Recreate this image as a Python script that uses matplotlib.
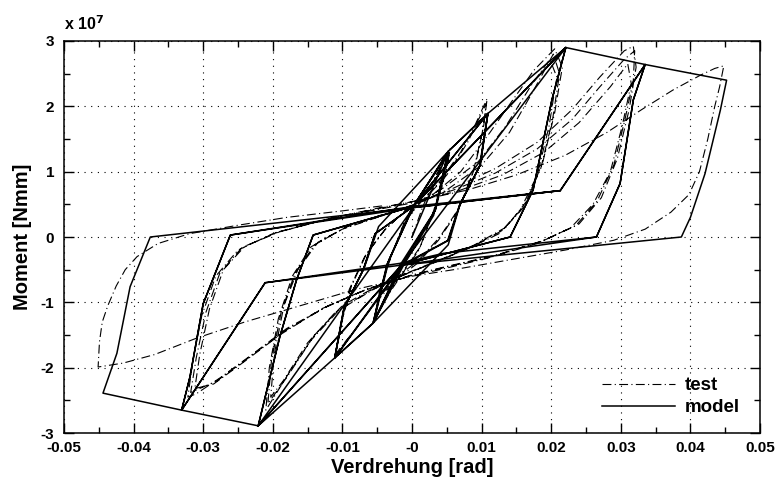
import matplotlib
matplotlib.use('Agg')
import matplotlib.pyplot as plt
import numpy as np
from matplotlib.ticker import MultipleLocator

plt.rcParams['font.family'] = ['Liberation Sans', 'DejaVu Sans']
plt.rcParams['axes.unicode_minus'] = False

# Verdrehung [rad], Moment [1e7 Nmm] -- model (solid), nan = pen up
model_rot = [
    0.0, 0.0052,
    0.0033, -0.0015, -0.0056, -0.0035, 0.0002, 0.0052,
    0.0031, -0.0013, -0.0055, -0.0033, 0.0000, 0.0053,
    0.0034, -0.0016, -0.0056, -0.0036, 0.0003, 0.0052,
    0.0109, 0.0098, 0.0069, 0.0052, -0.0015, -0.0056, -0.0111,
    -0.0098, -0.0070, -0.0053, 0.0002, 0.0109,
    0.0097, 0.0068, 0.0051, -0.0014, -0.0111,
    -0.0097, -0.0069, -0.0048, 0.0052, 0.0109,
    0.0098, 0.0069, 0.0052, -0.0056, -0.0111,
    -0.0098, -0.0070, -0.0053,
    0.0002, 0.0109, 0.0221, 0.0201, 0.0174, 0.0141,
    -0.0015, -0.0111, -0.0221, -0.0190, -0.0166, -0.0142,
    0.0002, 0.0221, 0.0201, 0.0174, 0.0141,
    -0.0015, -0.0221, -0.0190, -0.0166, -0.0142,
    0.0002, 0.0221, 0.0335, 0.0318, 0.0299, 0.0265,
    -0.0015, -0.0221, -0.0331, -0.0319, -0.0300, -0.0261,
    0.0002, 0.0213, 0.0335, 0.0318, 0.0299, 0.0265,
    0.0045, -0.0015, -0.0211, -0.0331, -0.0319, -0.0300, -0.0261,
    0.0002, 0.0213, 0.0335, 0.0452, 0.0443, 0.0421, 0.0400, 0.0387,
    -0.0015, -0.0211, -0.0331, -0.0444, -0.0424, -0.0405, -0.0376,
    0.0002, 0.0213,
    np.nan, 0.0002, -0.0221,
    np.nan, -0.0015, 0.0221,
]
model_mom = [
    0.0, 1.31,
    0.40, -0.43, -1.32, -0.40, 0.47, 1.31,
    0.33, -0.45, -1.30, -0.35, 0.45, 1.29,
    0.42, -0.41, -1.32, -0.42, 0.48, 1.31,
    1.89, 1.10, 0.50, -0.05, -0.43, -1.32, -1.85,
    -1.10, -0.50, 0.05, 0.47, 1.89,
    1.08, 0.48, -0.06, -0.44, -1.85,
    -1.08, -0.48, 0.16, 1.31, 1.89,
    1.10, 0.50, -0.12, -1.32, -1.85,
    -1.10, -0.50, 0.05,
    0.47, 1.89, 2.90, 2.10, 0.72, 0.00,
    -0.43, -1.85, -2.89, -1.53, -0.66, 0.03,
    0.47, 2.90, 2.10, 0.72, 0.00,
    -0.43, -2.89, -1.53, -0.66, 0.03,
    0.47, 2.90, 2.64, 2.10, 0.82, 0.00,
    -0.43, -2.89, -2.65, -2.14, -1.02, 0.03,
    0.47, 0.71, 2.64, 2.10, 0.82, 0.00,
    -0.25, -0.40, -0.70, -2.65, -2.14, -1.02, 0.03,
    0.45, 0.71, 2.64, 2.40, 1.94, 0.97, 0.30, 0.00,
    -0.43, -0.70, -2.65, -2.39, -1.78, -0.76, 0.00,
    0.45, 0.71,
    np.nan, 0.45, -2.89,
    np.nan, -0.43, 2.90,
]

# test (dash-dot)
test_rot = [
    0.0, 0.0015, 0.0035, 0.0055, 0.0048, 0.0033, 0.0012, -0.0008, -0.0030, -0.0055,
    -0.0047, -0.0032, -0.0012, 0.0008, 0.0030, 0.0054,
    0.0046, 0.0031, 0.0010, -0.0010, -0.0032, -0.0054,
    -0.0046, -0.0030, -0.0010, 0.0010,
    0.0040, 0.0070, 0.0090, 0.0108, 0.0103, 0.0090, 0.0068, 0.0040, 0.0010, -0.0020,
    -0.0050, -0.0080, -0.0110,
    -0.0103, -0.0090, -0.0068, -0.0040, -0.0010, 0.0020, 0.0050, 0.0080, 0.0107,
    0.0101, 0.0088, 0.0066, 0.0038, 0.0008, -0.0022, -0.0052, -0.0082, -0.0109,
    -0.0101, -0.0087, -0.0065, -0.0038, -0.0008,
    0.0030, 0.0070, 0.0112, 0.0145, 0.0175, 0.0205, 0.0216, 0.0205, 0.0188, 0.0165,
    0.0135, 0.0090, 0.0040, 0.0000, -0.0050, -0.0100, -0.0140, -0.0175, -0.0210,
    -0.0205, -0.0192, -0.0172, -0.0145, -0.0100, -0.0050, 0.0000, 0.0050, 0.0100,
    0.0140, 0.0175, 0.0203,
    0.0212, 0.0202, 0.0185, 0.0160, 0.0130, 0.0085, 0.0035, -0.0005, -0.0055, -0.0105,
    -0.0145, -0.0180, -0.0207,
    -0.0202, -0.0188, -0.0168, -0.0140, -0.0095, -0.0045, 0.0005,
    0.0045, 0.0095, 0.0135, 0.0170, 0.0198, 0.0208, 0.0197, 0.0180, 0.0155, 0.0125,
    0.0080, 0.0030, -0.0010, -0.0060, -0.0110, -0.0150, -0.0185, -0.0203,
    -0.0198, -0.0184, -0.0164, -0.0135, -0.0090, -0.0040, 0.0010,
    0.0060, 0.0120, 0.0180, 0.0230, 0.0270, 0.0305, 0.0318, 0.0322, 0.0312, 0.0295,
    0.0272, 0.0240, 0.0190, 0.0120, 0.0050, 0.0000, -0.0060, -0.0120, -0.0180, -0.0230,
    -0.0275, -0.0310, -0.0322,
    -0.0315, -0.0302, -0.0282, -0.0250, -0.0200, -0.0130, -0.0060, 0.0000, 0.0060, 0.0120,
    0.0180, 0.0230, 0.0270, 0.0305, 0.0320,
    0.0318, 0.0306, 0.0290, 0.0266, 0.0235, 0.0185, 0.0115, 0.0045, -0.0005, -0.0065,
    -0.0125, -0.0185, -0.0235, -0.0280, -0.0318,
    -0.0310, -0.0296, -0.0276, -0.0245, -0.0195, -0.0125, -0.0055, 0.0005,
    0.0065, 0.0130, 0.0190, 0.0240, 0.0285, 0.0310, 0.0315, 0.0302, 0.0285, 0.0260,
    0.0228, 0.0180, 0.0110, 0.0040, -0.0010, -0.0070, -0.0130, -0.0190, -0.0240, -0.0285,
    -0.0312, -0.0305, -0.0291, -0.0271, -0.0240, -0.0190, -0.0120, -0.0050, 0.0010,
    0.0080, 0.0150, 0.0220, 0.0280, 0.0330, 0.0375, 0.0415, 0.0435, 0.0448, 0.0442,
    0.0435, 0.0425, 0.0413, 0.0398, 0.0372, 0.0335, 0.0290, 0.0220, 0.0140, 0.0060,
    0.0000, -0.0080, -0.0160, -0.0240, -0.0310, -0.0370, -0.0415, -0.0451,
    -0.0449, -0.0445, -0.0437, -0.0425, -0.0412, -0.0395, -0.0365, -0.0320, -0.0250,
    -0.0180, -0.0100, -0.0040,
]
test_mom = [
    0.0, 0.45, 0.95, 1.35, 0.95, 0.45, -0.15, -0.45, -0.80, -1.30,
    -0.85, -0.35, 0.20, 0.50, 0.85, 1.30,
    0.90, 0.40, -0.20, -0.50, -0.85, -1.27,
    -0.80, -0.30, 0.25, 0.50,
    0.85, 1.30, 1.70, 2.12, 1.70, 1.05, 0.45, 0.00, -0.35, -0.60,
    -0.95, -1.40, -1.80,
    -1.35, -0.80, -0.30, 0.10, 0.40, 0.60, 0.95, 1.45, 2.05,
    1.60, 1.00, 0.40, -0.05, -0.40, -0.65, -1.00, -1.42, -1.78,
    -1.30, -0.75, -0.25, 0.12, 0.42,
    0.65, 1.00, 1.60, 2.10, 2.55, 2.88, 2.60, 1.90, 1.15, 0.55,
    0.15, -0.12, -0.35, -0.52, -0.75, -1.05, -1.50, -2.05, -2.65,
    -2.00, -1.25, -0.60, -0.15, 0.12, 0.30, 0.48, 0.72, 1.10,
    1.60, 2.25, 2.80,
    2.50, 1.80, 1.05, 0.45, 0.10, -0.15, -0.38, -0.55, -0.80, -1.12,
    -1.58, -2.15, -2.55,
    -1.90, -1.15, -0.55, -0.12, 0.15, 0.32, 0.50,
    0.75, 1.15, 1.70, 2.30, 2.72, 2.45, 1.70, 0.95, 0.40, 0.05,
    -0.18, -0.40, -0.57, -0.82, -1.15, -1.62, -2.20, -2.45,
    -1.80, -1.05, -0.50, -0.08, 0.18, 0.35, 0.52,
    0.75, 1.05, 1.45, 1.95, 2.45, 2.85, 2.92, 2.60, 1.95, 1.20,
    0.60, 0.20, -0.05, -0.28, -0.45, -0.58, -0.78, -1.05, -1.40, -1.80,
    -2.15, -2.40, -2.45,
    -1.90, -1.20, -0.60, -0.20, 0.05, 0.25, 0.40, 0.52, 0.72, 0.98,
    1.35, 1.80, 2.30, 2.72, 2.85,
    2.40, 1.80, 1.10, 0.55, 0.17, -0.07, -0.30, -0.47, -0.60, -0.80,
    -1.08, -1.45, -1.85, -2.20, -2.38,
    -1.85, -1.15, -0.55, -0.17, 0.07, 0.27, 0.42, 0.55,
    0.70, 0.95, 1.30, 1.75, 2.30, 2.65, 2.35, 1.70, 1.00, 0.50,
    0.14, -0.10, -0.32, -0.50, -0.62, -0.82, -1.10, -1.50, -1.90, -2.25,
    -2.32, -1.80, -1.10, -0.50, -0.14, 0.08, 0.28, 0.44, 0.56,
    0.72, 0.95, 1.25, 1.60, 1.95, 2.25, 2.48, 2.58, 2.62, 2.30,
    2.00, 1.50, 1.00, 0.65, 0.38, 0.12, -0.05, -0.20, -0.35, -0.50,
    -0.60, -0.80, -1.05, -1.30, -1.55, -1.80, -1.93, -1.99,
    -1.60, -1.30, -1.05, -0.75, -0.50, -0.30, -0.10, 0.05, 0.18,
    0.30, 0.40, 0.48,
]

fig = plt.figure(figsize=(7.81, 4.86), dpi=100)
ax = fig.add_axes([64 / 781, 1 - 433 / 486, 696 / 781, 392 / 486])

dashdot = (0, (8, 3, 1, 3))
ax.plot(test_rot, test_mom, color='black', lw=0.8, linestyle=dashdot, label='test')
ax.plot(model_rot, model_mom, color='black', lw=1.1, label='model')

ax.set_xlim(-0.05, 0.05)
ax.set_ylim(-3, 3)
ax.xaxis.set_major_locator(MultipleLocator(0.01))
ax.xaxis.set_minor_locator(MultipleLocator(0.005))
ax.yaxis.set_major_locator(MultipleLocator(1))
ax.yaxis.set_minor_locator(MultipleLocator(0.5))
ax.set_xticklabels([f'{v:g}' for v in np.round(ax.get_xticks(), 3)])
ax.set_yticklabels([f'{int(v)}' for v in ax.get_yticks()])

ax.grid(True, which='major', color='black', linestyle=(0, (1, 5)), lw=0.8)
ax.tick_params(which='both', direction='in', top=True, right=True, width=1.0,
               labelsize=11)
ax.tick_params(axis='x', pad=6)
ax.tick_params(axis='y', pad=7)
ax.tick_params(which='major', length=7)
ax.tick_params(which='minor', length=4.5)
for lab in ax.get_xticklabels() + ax.get_yticklabels():
    lab.set_fontweight('bold')
for sp in ax.spines.values():
    sp.set_linewidth(1.1)

ax.set_xlabel('Verdrehung [rad]', fontsize=14.5, fontweight='bold', labelpad=2)
ax.set_ylabel('Moment [Nmm]', fontsize=14.5, fontweight='bold', labelpad=6)
ax.text(0.0, 1.02, 'x 10$^{\\mathbf{7}}$', transform=ax.transAxes, fontsize=11.5,
        fontweight='bold', ha='left', va='bottom')

leg = ax.legend(loc='lower right', bbox_to_anchor=(0.995, 0.0), frameon=False,
                handlelength=3.9, handletextpad=0.5, labelspacing=0.25,
                prop={'weight': 'bold', 'size': 13.5})

fig.savefig('out.png', dpi=100, facecolor='white')
